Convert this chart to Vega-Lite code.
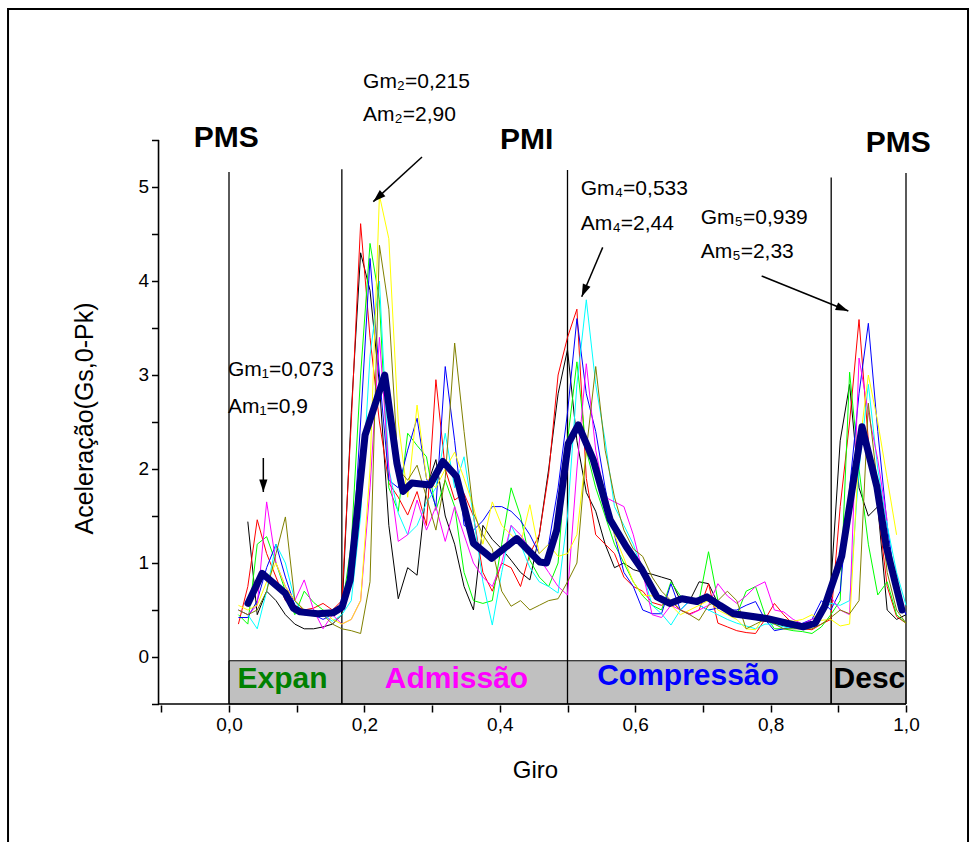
{
  "$schema": "https://vega.github.io/schema/vega-lite/v6.json",
  "width": 975,
  "height": 842,
  "padding": 0,
  "autosize": {"type": "none"},
  "background": "white",
  "config": {"view": {"stroke": null}, "font": "Liberation Sans"},
  "datasets": {
    "runs": [
      {"c":"1","x":0.0278,"y":1.44},{"c":"1","x":0.0417,"y":0.45},{"c":"1","x":0.0556,"y":0.7},{"c":"1","x":0.0694,"y":0.6},{"c":"1","x":0.0833,"y":0.45},{"c":"1","x":0.0972,"y":0.35},{"c":"1","x":0.1111,"y":0.3},{"c":"1","x":0.125,"y":0.3},{"c":"1","x":0.1389,"y":0.32},{"c":"1","x":0.1528,"y":0.35},{"c":"1","x":0.1667,"y":0.45},{"c":"1","x":0.1806,"y":2.6},{"c":"1","x":0.1944,"y":4.3},{"c":"1","x":0.2083,"y":3.9},{"c":"1","x":0.2222,"y":2.9},{"c":"1","x":0.2361,"y":1.4},{"c":"1","x":0.25,"y":0.62},{"c":"1","x":0.2639,"y":0.95},{"c":"1","x":0.2778,"y":0.87},{"c":"1","x":0.2917,"y":1.8},{"c":"1","x":0.3056,"y":2.1},{"c":"1","x":0.3194,"y":1.5},{"c":"1","x":0.3333,"y":1.2},{"c":"1","x":0.3472,"y":0.75},{"c":"1","x":0.3611,"y":0.5},{"c":"1","x":0.375,"y":1.4},{"c":"1","x":0.3889,"y":1.25},{"c":"1","x":0.4028,"y":1.15},{"c":"1","x":0.4167,"y":1.03},{"c":"1","x":0.4306,"y":0.9},{"c":"1","x":0.4444,"y":0.82},{"c":"1","x":0.4583,"y":1.3},{"c":"1","x":0.4722,"y":2.0},{"c":"1","x":0.4861,"y":2.8},{"c":"1","x":0.5,"y":3.27},{"c":"1","x":0.5139,"y":2.3},{"c":"1","x":0.5278,"y":1.75},{"c":"1","x":0.5417,"y":1.55},{"c":"1","x":0.5556,"y":1.2},{"c":"1","x":0.5694,"y":0.95},{"c":"1","x":0.5833,"y":1.0},{"c":"1","x":0.5972,"y":0.93},{"c":"1","x":0.6111,"y":0.9},{"c":"1","x":0.625,"y":0.88},{"c":"1","x":0.6389,"y":0.85},{"c":"1","x":0.6528,"y":0.82},{"c":"1","x":0.6667,"y":0.6},{"c":"1","x":0.6806,"y":0.6},{"c":"1","x":0.6944,"y":0.8},{"c":"1","x":0.7083,"y":0.78},{"c":"1","x":0.7222,"y":0.57},{"c":"1","x":0.7361,"y":0.5},{"c":"1","x":0.75,"y":0.45},{"c":"1","x":0.7639,"y":0.42},{"c":"1","x":0.7778,"y":0.4},{"c":"1","x":0.7917,"y":0.38},{"c":"1","x":0.8056,"y":0.36},{"c":"1","x":0.8194,"y":0.33},{"c":"1","x":0.8333,"y":0.32},{"c":"1","x":0.8472,"y":0.32},{"c":"1","x":0.8611,"y":0.35},{"c":"1","x":0.875,"y":0.5},{"c":"1","x":0.8889,"y":0.75},{"c":"1","x":0.9028,"y":2.3},{"c":"1","x":0.9167,"y":2.9},{"c":"1","x":0.9306,"y":1.8},{"c":"1","x":0.9444,"y":1.5},{"c":"1","x":0.9583,"y":1.6},{"c":"1","x":0.9722,"y":0.5},{"c":"1","x":0.9861,"y":0.4},{"c":"1","x":1.0,"y":0.45},

      {"c":"2","x":0.0139,"y":0.35},{"c":"2","x":0.0278,"y":0.75},{"c":"2","x":0.0417,"y":1.46},{"c":"2","x":0.0556,"y":1.1},{"c":"2","x":0.0694,"y":0.85},{"c":"2","x":0.0833,"y":0.6},{"c":"2","x":0.0972,"y":0.55},{"c":"2","x":0.1111,"y":0.5},{"c":"2","x":0.125,"y":0.52},{"c":"2","x":0.1389,"y":0.57},{"c":"2","x":0.1528,"y":0.5},{"c":"2","x":0.1667,"y":0.6},{"c":"2","x":0.1806,"y":2.5},{"c":"2","x":0.1944,"y":4.61},{"c":"2","x":0.2083,"y":3.4},{"c":"2","x":0.2222,"y":2.5},{"c":"2","x":0.2361,"y":1.85},{"c":"2","x":0.25,"y":1.7},{"c":"2","x":0.2639,"y":1.51},{"c":"2","x":0.2778,"y":1.76},{"c":"2","x":0.2917,"y":1.4},{"c":"2","x":0.3056,"y":2.95},{"c":"2","x":0.3194,"y":2.0},{"c":"2","x":0.3333,"y":1.67},{"c":"2","x":0.3472,"y":1.74},{"c":"2","x":0.3611,"y":1.5},{"c":"2","x":0.375,"y":0.9},{"c":"2","x":0.3889,"y":0.7},{"c":"2","x":0.4028,"y":1.0},{"c":"2","x":0.4167,"y":0.95},{"c":"2","x":0.4306,"y":0.75},{"c":"2","x":0.4444,"y":1.1},{"c":"2","x":0.4583,"y":1.3},{"c":"2","x":0.4722,"y":1.95},{"c":"2","x":0.4861,"y":3.0},{"c":"2","x":0.5,"y":3.4},{"c":"2","x":0.5139,"y":3.7},{"c":"2","x":0.5278,"y":1.9},{"c":"2","x":0.5417,"y":1.3},{"c":"2","x":0.5556,"y":1.2},{"c":"2","x":0.5694,"y":1.1},{"c":"2","x":0.5833,"y":0.85},{"c":"2","x":0.5972,"y":0.75},{"c":"2","x":0.6111,"y":0.7},{"c":"2","x":0.625,"y":0.58},{"c":"2","x":0.6389,"y":0.55},{"c":"2","x":0.6528,"y":0.6},{"c":"2","x":0.6667,"y":0.5},{"c":"2","x":0.6806,"y":0.46},{"c":"2","x":0.6944,"y":0.5},{"c":"2","x":0.7083,"y":0.78},{"c":"2","x":0.7222,"y":0.36},{"c":"2","x":0.7361,"y":0.32},{"c":"2","x":0.75,"y":0.28},{"c":"2","x":0.7639,"y":0.26},{"c":"2","x":0.7778,"y":0.25},{"c":"2","x":0.7917,"y":0.4},{"c":"2","x":0.8056,"y":0.57},{"c":"2","x":0.8194,"y":0.45},{"c":"2","x":0.8333,"y":0.35},{"c":"2","x":0.8472,"y":0.3},{"c":"2","x":0.8611,"y":0.29},{"c":"2","x":0.875,"y":0.35},{"c":"2","x":0.8889,"y":0.4},{"c":"2","x":0.9028,"y":1.6},{"c":"2","x":0.9167,"y":2.5},{"c":"2","x":0.9306,"y":3.59},{"c":"2","x":0.9444,"y":2.3},{"c":"2","x":0.9583,"y":1.6},{"c":"2","x":0.9722,"y":0.75},{"c":"2","x":0.9861,"y":0.43},{"c":"2","x":1.0,"y":0.36},

      {"c":"3","x":0.0139,"y":0.45},{"c":"3","x":0.0278,"y":0.35},{"c":"3","x":0.0417,"y":1.2},{"c":"3","x":0.0556,"y":1.28},{"c":"3","x":0.0694,"y":1.0},{"c":"3","x":0.0833,"y":0.7},{"c":"3","x":0.0972,"y":0.45},{"c":"3","x":0.1111,"y":0.7},{"c":"3","x":0.125,"y":0.58},{"c":"3","x":0.1389,"y":0.5},{"c":"3","x":0.1528,"y":0.45},{"c":"3","x":0.1667,"y":0.5},{"c":"3","x":0.1806,"y":1.2},{"c":"3","x":0.1944,"y":3.0},{"c":"3","x":0.2083,"y":4.4},{"c":"3","x":0.2222,"y":3.8},{"c":"3","x":0.2361,"y":1.8},{"c":"3","x":0.25,"y":1.55},{"c":"3","x":0.2639,"y":2.38},{"c":"3","x":0.2778,"y":2.25},{"c":"3","x":0.2917,"y":2.13},{"c":"3","x":0.3056,"y":1.56},{"c":"3","x":0.3194,"y":1.88},{"c":"3","x":0.3333,"y":1.6},{"c":"3","x":0.3472,"y":0.9},{"c":"3","x":0.3611,"y":0.6},{"c":"3","x":0.375,"y":0.57},{"c":"3","x":0.3889,"y":0.6},{"c":"3","x":0.4028,"y":1.2},{"c":"3","x":0.4167,"y":1.8},{"c":"3","x":0.4306,"y":1.5},{"c":"3","x":0.4444,"y":1.03},{"c":"3","x":0.4583,"y":0.85},{"c":"3","x":0.4722,"y":0.75},{"c":"3","x":0.4861,"y":1.0},{"c":"3","x":0.5,"y":2.3},{"c":"3","x":0.5139,"y":3.14},{"c":"3","x":0.5278,"y":2.2},{"c":"3","x":0.5417,"y":1.8},{"c":"3","x":0.5556,"y":1.5},{"c":"3","x":0.5694,"y":1.2},{"c":"3","x":0.5833,"y":1.0},{"c":"3","x":0.5972,"y":0.8},{"c":"3","x":0.6111,"y":0.65},{"c":"3","x":0.625,"y":0.55},{"c":"3","x":0.6389,"y":0.5},{"c":"3","x":0.6528,"y":0.8},{"c":"3","x":0.6667,"y":0.65},{"c":"3","x":0.6806,"y":0.6},{"c":"3","x":0.6944,"y":0.6},{"c":"3","x":0.7083,"y":1.12},{"c":"3","x":0.7222,"y":0.6},{"c":"3","x":0.7361,"y":0.5},{"c":"3","x":0.75,"y":0.45},{"c":"3","x":0.7639,"y":0.7},{"c":"3","x":0.7778,"y":0.75},{"c":"3","x":0.7917,"y":0.45},{"c":"3","x":0.8056,"y":0.3},{"c":"3","x":0.8194,"y":0.3},{"c":"3","x":0.8333,"y":0.28},{"c":"3","x":0.8472,"y":0.27},{"c":"3","x":0.8611,"y":0.25},{"c":"3","x":0.875,"y":0.32},{"c":"3","x":0.8889,"y":0.45},{"c":"3","x":0.9028,"y":0.6},{"c":"3","x":0.9167,"y":3.03},{"c":"3","x":0.9306,"y":2.0},{"c":"3","x":0.9444,"y":1.2},{"c":"3","x":0.9583,"y":0.66},{"c":"3","x":0.9722,"y":0.8},{"c":"3","x":0.9861,"y":0.45},{"c":"3","x":1.0,"y":0.36},

      {"c":"4","x":0.0139,"y":0.42},{"c":"4","x":0.0278,"y":0.42},{"c":"4","x":0.0417,"y":0.6},{"c":"4","x":0.0556,"y":0.95},{"c":"4","x":0.0694,"y":1.2},{"c":"4","x":0.0833,"y":0.85},{"c":"4","x":0.0972,"y":0.55},{"c":"4","x":0.1111,"y":0.45},{"c":"4","x":0.125,"y":0.45},{"c":"4","x":0.1389,"y":0.4},{"c":"4","x":0.1528,"y":0.45},{"c":"4","x":0.1667,"y":0.5},{"c":"4","x":0.1806,"y":0.9},{"c":"4","x":0.1944,"y":2.5},{"c":"4","x":0.2083,"y":4.24},{"c":"4","x":0.2222,"y":3.0},{"c":"4","x":0.2361,"y":1.88},{"c":"4","x":0.25,"y":1.8},{"c":"4","x":0.2639,"y":2.2},{"c":"4","x":0.2778,"y":2.54},{"c":"4","x":0.2917,"y":1.9},{"c":"4","x":0.3056,"y":1.6},{"c":"4","x":0.3194,"y":3.09},{"c":"4","x":0.3333,"y":2.3},{"c":"4","x":0.3472,"y":1.4},{"c":"4","x":0.3611,"y":1.35},{"c":"4","x":0.375,"y":1.45},{"c":"4","x":0.3889,"y":1.6},{"c":"4","x":0.4028,"y":1.6},{"c":"4","x":0.4167,"y":1.55},{"c":"4","x":0.4306,"y":1.45},{"c":"4","x":0.4444,"y":1.3},{"c":"4","x":0.4583,"y":1.1},{"c":"4","x":0.4722,"y":1.2},{"c":"4","x":0.4861,"y":1.8},{"c":"4","x":0.5,"y":2.6},{"c":"4","x":0.5139,"y":3.6},{"c":"4","x":0.5278,"y":2.8},{"c":"4","x":0.5417,"y":2.4},{"c":"4","x":0.5556,"y":1.8},{"c":"4","x":0.5694,"y":1.3},{"c":"4","x":0.5833,"y":0.9},{"c":"4","x":0.5972,"y":0.75},{"c":"4","x":0.6111,"y":0.5},{"c":"4","x":0.625,"y":0.46},{"c":"4","x":0.6389,"y":0.46},{"c":"4","x":0.6528,"y":0.78},{"c":"4","x":0.6667,"y":0.5},{"c":"4","x":0.6806,"y":0.6},{"c":"4","x":0.6944,"y":0.55},{"c":"4","x":0.7083,"y":0.5},{"c":"4","x":0.7222,"y":0.52},{"c":"4","x":0.7361,"y":0.5},{"c":"4","x":0.75,"y":0.5},{"c":"4","x":0.7639,"y":0.55},{"c":"4","x":0.7778,"y":0.59},{"c":"4","x":0.7917,"y":0.4},{"c":"4","x":0.8056,"y":0.28},{"c":"4","x":0.8194,"y":0.3},{"c":"4","x":0.8333,"y":0.32},{"c":"4","x":0.8472,"y":0.36},{"c":"4","x":0.8611,"y":0.4},{"c":"4","x":0.875,"y":0.6},{"c":"4","x":0.8889,"y":0.5},{"c":"4","x":0.9028,"y":0.7},{"c":"4","x":0.9167,"y":1.8},{"c":"4","x":0.9306,"y":2.8},{"c":"4","x":0.9444,"y":3.55},{"c":"4","x":0.9583,"y":2.4},{"c":"4","x":0.9722,"y":1.4},{"c":"4","x":0.9861,"y":0.7},{"c":"4","x":1.0,"y":0.45},

      {"c":"5","x":0.0139,"y":0.5},{"c":"5","x":0.0278,"y":0.45},{"c":"5","x":0.0417,"y":0.3},{"c":"5","x":0.0556,"y":0.7},{"c":"5","x":0.0694,"y":1.2},{"c":"5","x":0.0833,"y":1.0},{"c":"5","x":0.0972,"y":0.6},{"c":"5","x":0.1111,"y":0.45},{"c":"5","x":0.125,"y":0.5},{"c":"5","x":0.1389,"y":0.45},{"c":"5","x":0.1528,"y":0.38},{"c":"5","x":0.1667,"y":0.45},{"c":"5","x":0.1806,"y":0.6},{"c":"5","x":0.1944,"y":1.5},{"c":"5","x":0.2083,"y":3.2},{"c":"5","x":0.2222,"y":4.0},{"c":"5","x":0.2361,"y":2.0},{"c":"5","x":0.25,"y":1.53},{"c":"5","x":0.2639,"y":1.3},{"c":"5","x":0.2778,"y":1.4},{"c":"5","x":0.2917,"y":1.64},{"c":"5","x":0.3056,"y":1.8},{"c":"5","x":0.3194,"y":2.38},{"c":"5","x":0.3333,"y":1.8},{"c":"5","x":0.3472,"y":2.13},{"c":"5","x":0.3611,"y":1.5},{"c":"5","x":0.375,"y":0.8},{"c":"5","x":0.3889,"y":0.34},{"c":"5","x":0.4028,"y":0.9},{"c":"5","x":0.4167,"y":1.4},{"c":"5","x":0.4306,"y":1.2},{"c":"5","x":0.4444,"y":0.95},{"c":"5","x":0.4583,"y":0.8},{"c":"5","x":0.4722,"y":0.75},{"c":"5","x":0.4861,"y":0.68},{"c":"5","x":0.5,"y":1.5},{"c":"5","x":0.5139,"y":2.9},{"c":"5","x":0.5278,"y":3.8},{"c":"5","x":0.5417,"y":2.9},{"c":"5","x":0.5556,"y":2.3},{"c":"5","x":0.5694,"y":1.6},{"c":"5","x":0.5833,"y":1.4},{"c":"5","x":0.5972,"y":1.2},{"c":"5","x":0.6111,"y":0.9},{"c":"5","x":0.625,"y":0.55},{"c":"5","x":0.6389,"y":0.46},{"c":"5","x":0.6528,"y":0.34},{"c":"5","x":0.6667,"y":0.5},{"c":"5","x":0.6806,"y":0.6},{"c":"5","x":0.6944,"y":0.55},{"c":"5","x":0.7083,"y":0.5},{"c":"5","x":0.7222,"y":0.45},{"c":"5","x":0.7361,"y":0.4},{"c":"5","x":0.75,"y":0.36},{"c":"5","x":0.7639,"y":0.33},{"c":"5","x":0.7778,"y":0.3},{"c":"5","x":0.7917,"y":0.35},{"c":"5","x":0.8056,"y":0.35},{"c":"5","x":0.8194,"y":0.32},{"c":"5","x":0.8333,"y":0.3},{"c":"5","x":0.8472,"y":0.32},{"c":"5","x":0.8611,"y":0.35},{"c":"5","x":0.875,"y":0.5},{"c":"5","x":0.8889,"y":0.57},{"c":"5","x":0.9028,"y":0.55},{"c":"5","x":0.9167,"y":0.6},{"c":"5","x":0.9306,"y":2.0},{"c":"5","x":0.9444,"y":2.9},{"c":"5","x":0.9583,"y":2.0},{"c":"5","x":0.9722,"y":1.4},{"c":"5","x":0.9861,"y":0.9},{"c":"5","x":1.0,"y":0.55},

      {"c":"6","x":0.0139,"y":0.5},{"c":"6","x":0.0278,"y":0.45},{"c":"6","x":0.0417,"y":0.55},{"c":"6","x":0.0556,"y":1.65},{"c":"6","x":0.0694,"y":1.0},{"c":"6","x":0.0833,"y":0.75},{"c":"6","x":0.0972,"y":0.6},{"c":"6","x":0.1111,"y":0.82},{"c":"6","x":0.125,"y":0.5},{"c":"6","x":0.1389,"y":0.3},{"c":"6","x":0.1528,"y":0.45},{"c":"6","x":0.1667,"y":0.35},{"c":"6","x":0.1806,"y":0.4},{"c":"6","x":0.1944,"y":0.6},{"c":"6","x":0.2083,"y":1.8},{"c":"6","x":0.2222,"y":3.4},{"c":"6","x":0.2361,"y":2.0},{"c":"6","x":0.25,"y":1.23},{"c":"6","x":0.2639,"y":1.3},{"c":"6","x":0.2778,"y":1.67},{"c":"6","x":0.2917,"y":1.35},{"c":"6","x":0.3056,"y":1.6},{"c":"6","x":0.3194,"y":1.23},{"c":"6","x":0.3333,"y":1.6},{"c":"6","x":0.3472,"y":1.3},{"c":"6","x":0.3611,"y":1.0},{"c":"6","x":0.375,"y":0.85},{"c":"6","x":0.3889,"y":0.75},{"c":"6","x":0.4028,"y":1.0},{"c":"6","x":0.4167,"y":1.4},{"c":"6","x":0.4306,"y":1.3},{"c":"6","x":0.4444,"y":1.15},{"c":"6","x":0.4583,"y":1.05},{"c":"6","x":0.4722,"y":0.9},{"c":"6","x":0.4861,"y":0.75},{"c":"6","x":0.5,"y":0.66},{"c":"6","x":0.5139,"y":2.0},{"c":"6","x":0.5278,"y":3.12},{"c":"6","x":0.5417,"y":2.2},{"c":"6","x":0.5556,"y":1.7},{"c":"6","x":0.5694,"y":1.65},{"c":"6","x":0.5833,"y":1.6},{"c":"6","x":0.5972,"y":1.3},{"c":"6","x":0.6111,"y":0.9},{"c":"6","x":0.625,"y":0.45},{"c":"6","x":0.6389,"y":0.42},{"c":"6","x":0.6528,"y":0.55},{"c":"6","x":0.6667,"y":0.5},{"c":"6","x":0.6806,"y":0.45},{"c":"6","x":0.6944,"y":0.5},{"c":"6","x":0.7083,"y":0.55},{"c":"6","x":0.7222,"y":0.78},{"c":"6","x":0.7361,"y":0.65},{"c":"6","x":0.75,"y":0.57},{"c":"6","x":0.7639,"y":0.65},{"c":"6","x":0.7778,"y":0.75},{"c":"6","x":0.7917,"y":0.8},{"c":"6","x":0.8056,"y":0.5},{"c":"6","x":0.8194,"y":0.48},{"c":"6","x":0.8333,"y":0.4},{"c":"6","x":0.8472,"y":0.35},{"c":"6","x":0.8611,"y":0.4},{"c":"6","x":0.875,"y":0.45},{"c":"6","x":0.8889,"y":0.64},{"c":"6","x":0.9028,"y":0.5},{"c":"6","x":0.9167,"y":0.45},{"c":"6","x":0.9306,"y":3.18},{"c":"6","x":0.9444,"y":2.6},{"c":"6","x":0.9583,"y":2.1},{"c":"6","x":0.9722,"y":1.45},

      {"c":"7","x":0.0139,"y":0.55},{"c":"7","x":0.0278,"y":0.5},{"c":"7","x":0.0417,"y":0.55},{"c":"7","x":0.0556,"y":0.8},{"c":"7","x":0.0694,"y":1.0},{"c":"7","x":0.0833,"y":0.75},{"c":"7","x":0.0972,"y":0.6},{"c":"7","x":0.1111,"y":0.5},{"c":"7","x":0.125,"y":0.45},{"c":"7","x":0.1389,"y":0.5},{"c":"7","x":0.1528,"y":0.4},{"c":"7","x":0.1667,"y":0.35},{"c":"7","x":0.1806,"y":0.4},{"c":"7","x":0.1944,"y":0.6},{"c":"7","x":0.2083,"y":2.0},{"c":"7","x":0.2222,"y":4.91},{"c":"7","x":0.2361,"y":4.45},{"c":"7","x":0.25,"y":2.5},{"c":"7","x":0.2639,"y":1.7},{"c":"7","x":0.2778,"y":2.68},{"c":"7","x":0.2917,"y":1.9},{"c":"7","x":0.3056,"y":1.8},{"c":"7","x":0.3194,"y":2.0},{"c":"7","x":0.3333,"y":2.18},{"c":"7","x":0.3472,"y":1.9},{"c":"7","x":0.3611,"y":1.6},{"c":"7","x":0.375,"y":1.2},{"c":"7","x":0.3889,"y":1.65},{"c":"7","x":0.4028,"y":1.4},{"c":"7","x":0.4167,"y":1.3},{"c":"7","x":0.4306,"y":1.2},{"c":"7","x":0.4444,"y":1.62},{"c":"7","x":0.4583,"y":1.1},{"c":"7","x":0.4722,"y":1.2},{"c":"7","x":0.4861,"y":1.07},{"c":"7","x":0.5,"y":1.1},{"c":"7","x":0.5139,"y":1.3},{"c":"7","x":0.5278,"y":2.2},{"c":"7","x":0.5417,"y":2.0},{"c":"7","x":0.5556,"y":1.7},{"c":"7","x":0.5694,"y":1.3},{"c":"7","x":0.5833,"y":1.05},{"c":"7","x":0.5972,"y":0.8},{"c":"7","x":0.6111,"y":0.66},{"c":"7","x":0.625,"y":0.65},{"c":"7","x":0.6389,"y":0.6},{"c":"7","x":0.6528,"y":0.55},{"c":"7","x":0.6667,"y":0.45},{"c":"7","x":0.6806,"y":0.5},{"c":"7","x":0.6944,"y":0.55},{"c":"7","x":0.7083,"y":0.6},{"c":"7","x":0.7222,"y":0.5},{"c":"7","x":0.7361,"y":0.45},{"c":"7","x":0.75,"y":0.4},{"c":"7","x":0.7639,"y":0.3},{"c":"7","x":0.7778,"y":0.29},{"c":"7","x":0.7917,"y":0.45},{"c":"7","x":0.8056,"y":0.35},{"c":"7","x":0.8194,"y":0.4},{"c":"7","x":0.8333,"y":0.38},{"c":"7","x":0.8472,"y":0.4},{"c":"7","x":0.8611,"y":0.45},{"c":"7","x":0.875,"y":0.39},{"c":"7","x":0.8889,"y":0.4},{"c":"7","x":0.9028,"y":0.33},{"c":"7","x":0.9167,"y":0.35},{"c":"7","x":0.9306,"y":2.2},{"c":"7","x":0.9444,"y":3.0},{"c":"7","x":0.9583,"y":2.5},{"c":"7","x":0.9722,"y":1.9},{"c":"7","x":0.9861,"y":1.3},

      {"c":"8","x":0.0139,"y":0.5},{"c":"8","x":0.0278,"y":0.45},{"c":"8","x":0.0417,"y":0.5},{"c":"8","x":0.0556,"y":0.7},{"c":"8","x":0.0694,"y":1.1},{"c":"8","x":0.0833,"y":1.49},{"c":"8","x":0.0972,"y":0.6},{"c":"8","x":0.1111,"y":0.5},{"c":"8","x":0.125,"y":0.45},{"c":"8","x":0.1389,"y":0.45},{"c":"8","x":0.1528,"y":0.35},{"c":"8","x":0.1667,"y":0.3},{"c":"8","x":0.1806,"y":0.28},{"c":"8","x":0.1944,"y":0.25},{"c":"8","x":0.2083,"y":0.8},{"c":"8","x":0.2222,"y":4.38},{"c":"8","x":0.2361,"y":3.7},{"c":"8","x":0.25,"y":2.0},{"c":"8","x":0.2639,"y":1.88},{"c":"8","x":0.2778,"y":2.04},{"c":"8","x":0.2917,"y":1.7},{"c":"8","x":0.3056,"y":1.35},{"c":"8","x":0.3194,"y":1.9},{"c":"8","x":0.3333,"y":3.34},{"c":"8","x":0.3472,"y":2.4},{"c":"8","x":0.3611,"y":1.53},{"c":"8","x":0.375,"y":1.3},{"c":"8","x":0.3889,"y":1.15},{"c":"8","x":0.4028,"y":0.7},{"c":"8","x":0.4167,"y":0.54},{"c":"8","x":0.4306,"y":0.6},{"c":"8","x":0.4444,"y":0.5},{"c":"8","x":0.4583,"y":0.55},{"c":"8","x":0.4722,"y":0.6},{"c":"8","x":0.4861,"y":0.62},{"c":"8","x":0.5,"y":0.8},{"c":"8","x":0.5139,"y":1.0},{"c":"8","x":0.5278,"y":2.2},{"c":"8","x":0.5417,"y":3.09},{"c":"8","x":0.5556,"y":2.2},{"c":"8","x":0.5694,"y":1.7},{"c":"8","x":0.5833,"y":1.35},{"c":"8","x":0.5972,"y":1.15},{"c":"8","x":0.6111,"y":1.07},{"c":"8","x":0.625,"y":0.85},{"c":"8","x":0.6389,"y":0.7},{"c":"8","x":0.6528,"y":0.6},{"c":"8","x":0.6667,"y":0.5},{"c":"8","x":0.6806,"y":0.45},{"c":"8","x":0.6944,"y":0.39},{"c":"8","x":0.7083,"y":0.55},{"c":"8","x":0.7222,"y":0.6},{"c":"8","x":0.7361,"y":0.7},{"c":"8","x":0.75,"y":0.6},{"c":"8","x":0.7639,"y":0.3},{"c":"8","x":0.7778,"y":0.35},{"c":"8","x":0.7917,"y":0.4},{"c":"8","x":0.8056,"y":0.35},{"c":"8","x":0.8194,"y":0.3},{"c":"8","x":0.8333,"y":0.3},{"c":"8","x":0.8472,"y":0.3},{"c":"8","x":0.8611,"y":0.3},{"c":"8","x":0.875,"y":0.35},{"c":"8","x":0.8889,"y":0.42},{"c":"8","x":0.9028,"y":0.5},{"c":"8","x":0.9167,"y":0.46},{"c":"8","x":0.9306,"y":0.6},{"c":"8","x":0.9444,"y":2.7},{"c":"8","x":0.9583,"y":1.8},{"c":"8","x":0.9722,"y":0.9},{"c":"8","x":0.9861,"y":0.5},{"c":"8","x":1.0,"y":0.36}
    ],
    "mean": [
      {"x":0.028,"y":0.57},{"x":0.049,"y":0.89},{"x":0.083,"y":0.68},{"x":0.095,"y":0.52},{"x":0.105,"y":0.48},{"x":0.131,"y":0.46},{"x":0.154,"y":0.47},{"x":0.167,"y":0.53},{"x":0.179,"y":0.82},{"x":0.201,"y":2.36},{"x":0.23,"y":3.0},{"x":0.248,"y":2.06},{"x":0.257,"y":1.76},{"x":0.27,"y":1.85},{"x":0.297,"y":1.83},{"x":0.316,"y":2.08},{"x":0.336,"y":1.92},{"x":0.361,"y":1.21},{"x":0.388,"y":1.05},{"x":0.425,"y":1.26},{"x":0.459,"y":1.01},{"x":0.469,"y":1.0},{"x":0.484,"y":1.35},{"x":0.501,"y":2.27},{"x":0.516,"y":2.47},{"x":0.538,"y":2.1},{"x":0.563,"y":1.46},{"x":0.587,"y":1.17},{"x":0.61,"y":0.93},{"x":0.632,"y":0.64},{"x":0.651,"y":0.57},{"x":0.669,"y":0.62},{"x":0.691,"y":0.59},{"x":0.706,"y":0.64},{"x":0.725,"y":0.55},{"x":0.745,"y":0.46},{"x":0.794,"y":0.41},{"x":0.848,"y":0.32},{"x":0.866,"y":0.36},{"x":0.88,"y":0.54},{"x":0.905,"y":1.07},{"x":0.935,"y":2.45},{"x":0.957,"y":1.81},{"x":0.971,"y":1.17},{"x":0.994,"y":0.5}
    ]
  },
  "encoding": {
    "x": {
      "field": "x", "type": "quantitative",
      "scale": {"domain": [-0.33826, 1.10192], "nice": false, "zero": false},
      "axis": {
        "values": [-0.1, 0, 0.1, 0.2, 0.3, 0.4, 0.5, 0.6, 0.7, 0.8, 0.9, 1.0],
        "labelExpr": "round(datum.value * 10) % 2 == 0 ? replace(format(datum.value, '.1f'), '.', ',') : ''",
        "offset": -137, "domain": false, "grid": false,
        "tickColor": "black", "tickSize": 7, "tickWidth": 1.5,
        "labelFont": "Liberation Sans", "labelFontSize": 19, "labelColor": "black", "labelPadding": 3,
        "labelOverlap": false, "labelFlush": false, "labelBound": false,
        "title": "Giro", "titleFont": "Liberation Sans", "titleFontSize": 24, "titleFontWeight": "normal", "titleColor": "black",
        "titlePadding": 24, "titleX": 535
      }
    },
    "y": {
      "field": "y", "type": "quantitative",
      "scale": {"domain": [-1.96809, 6.98936], "nice": false, "zero": false},
      "axis": {
        "values": [-0.5, 0, 0.5, 1, 1.5, 2, 2.5, 3, 3.5, 4, 4.5, 5, 5.5],
        "labelExpr": "datum.value % 1 == 0 ? format(datum.value, 'd') : ''",
        "offset": -158.5, "domain": false, "grid": false,
        "tickColor": "black", "tickSize": 7, "tickWidth": 1.5,
        "labelFont": "Liberation Sans", "labelFontSize": 19, "labelColor": "black", "labelPadding": 3,
        "labelOverlap": false, "labelBound": false,
        "title": "Aceleração(Gs,0-Pk)", "titleFont": "Liberation Sans", "titleFontSize": 25, "titleFontWeight": "normal", "titleColor": "black",
        "titlePadding": 40, "titleY": 418
      }
    }
  },
  "layer": [
    {
      "data": {"values": [{"x": -0.3264, "x2": 1.0916, "y": -2.5, "y2": 6.894}]},
      "mark": {"type": "rect", "fill": "white", "fillOpacity": 0, "stroke": "black", "strokeWidth": 2, "clip": false},
      "encoding": {"x2": {"field": "x2"}, "y2": {"field": "y2"}}
    },
    {
      "data": {"values": [
        {"x": 0, "x2": 0.1667, "y": -0.5, "y2": -0.04},
        {"x": 0.1667, "x2": 0.5, "y": -0.5, "y2": -0.04},
        {"x": 0.5, "x2": 0.8895, "y": -0.5, "y2": -0.04},
        {"x": 0.8895, "x2": 1.0, "y": -0.5, "y2": -0.04}
      ]},
      "mark": {"type": "rect", "fill": "#c0c0c0", "stroke": "black", "strokeWidth": 1},
      "encoding": {"x2": {"field": "x2"}, "y2": {"field": "y2"}}
    },
    {
      "data": {"values": [
        {"x": 0, "y": -0.5, "y2": 5.16},
        {"x": 0.1667, "y": -0.5, "y2": 5.19},
        {"x": 0.5, "y": -0.5, "y2": 5.18},
        {"x": 0.8895, "y": -0.5, "y2": 5.1},
        {"x": 1.0, "y": -0.5, "y2": 5.15}
      ]},
      "mark": {"type": "rule", "color": "black", "strokeWidth": 1.3},
      "encoding": {"y2": {"field": "y2"}}
    },
    {
      "data": {"name": "runs"},
      "mark": {"type": "line", "strokeWidth": 1, "strokeJoin": "miter"},
      "encoding": {
        "color": {
          "field": "c", "type": "nominal", "legend": null,
          "scale": {"domain": ["1","2","3","4","5","6","7","8"], "range": ["#000000","#ff0000","#00ff00","#0000ff","#00ffff","#ff00ff","#ffff00","#808000"]}
        },
        "order": {"field": "x", "type": "quantitative"}
      }
    },
    {
      "data": {"name": "mean"},
      "mark": {"type": "line", "color": "#000080", "strokeWidth": 7, "strokeJoin": "round", "strokeCap": "round"},
      "encoding": {}
    },
    {
      "data": {"values": [{"x": -0.1041, "x2": 1.0, "y": -0.5}]},
      "mark": {"type": "rule", "color": "black", "strokeWidth": 1.6},
      "encoding": {"x2": {"field": "x2"}}
    },
    {
      "data": {"values": [{"x": -0.1041, "y": -0.5, "y2": 5.5}]},
      "mark": {"type": "rule", "color": "black", "strokeWidth": 1.6},
      "encoding": {"y2": {"field": "y2"}}
    },
    {
      "data": {"values": [
        {"x": 0.079, "y": -0.33, "lab": "Expan"},
        {"x": 0.336, "y": -0.33, "lab": "Admissão"},
        {"x": 0.678, "y": -0.3, "lab": "Compressão"},
        {"x": 0.946, "y": -0.33, "lab": "Desc"}
      ]},
      "mark": {"type": "text", "font": "Liberation Sans", "fontSize": 30, "fontWeight": "bold", "align": "center", "baseline": "alphabetic"},
      "encoding": {
        "text": {"field": "lab"},
        "color": {"field": "lab", "type": "nominal", "legend": null,
          "scale": {"domain": ["Expan", "Admissão", "Compressão", "Desc"], "range": ["#008000", "#ff00ff", "#0000ff", "#000000"]}}
      }
    },
    {
      "data": {"values": [
        {"x": -0.004, "y": 5.426, "lab": "PMS"},
        {"x": 0.4397, "y": 5.404, "lab": "PMI"},
        {"x": 0.9886, "y": 5.376, "lab": "PMS"}
      ]},
      "mark": {"type": "text", "font": "Liberation Sans", "fontSize": 30, "fontWeight": "bold", "align": "center", "baseline": "alphabetic", "color": "black"},
      "encoding": {"text": {"field": "lab"}}
    },
    {
      "data": {"values": [
        {"x": -0.0015, "y": 2.989, "lab": "Gm₁=0,073"},
        {"x": -0.0015, "y": 2.596, "lab": "Am₁=0,9"},
        {"x": 0.198, "y": 6.053, "lab": "Gm₂=0,215"},
        {"x": 0.198, "y": 5.702, "lab": "Am₂=2,90"},
        {"x": 0.5195, "y": 4.915, "lab": "Gm₄=0,533"},
        {"x": 0.5195, "y": 4.543, "lab": "Am₄=2,44"},
        {"x": 0.6967, "y": 4.606, "lab": "Gm₅=0,939"},
        {"x": 0.6967, "y": 4.241, "lab": "Am₅=2,33"}
      ]},
      "mark": {"type": "text", "font": "Liberation Sans", "fontSize": 21, "align": "left", "baseline": "alphabetic", "color": "black"},
      "encoding": {"text": {"field": "lab"}}
    },
    {
      "data": {"values": [
        {"x": 0.0507, "y": 2.117, "x2": 0.0507, "y2": 1.755},
        {"x": 0.2851, "y": 5.319, "x2": 0.2131, "y2": 4.844},
        {"x": 0.552, "y": 4.358, "x2": 0.521, "y2": 3.833},
        {"x": 0.7868, "y": 4.053, "x2": 0.9148, "y2": 3.681}
      ]},
      "mark": {"type": "rule", "color": "black", "strokeWidth": 1.5},
      "encoding": {"x2": {"field": "x2"}, "y2": {"field": "y2"}}
    },
    {
      "data": {"values": [{"x": 0.0507, "y": 1.755}]},
      "mark": {"type": "point", "shape": "M0,0L0.65,2L-0.65,2Z", "size": 160, "angle": 180, "filled": true, "color": "black", "opacity": 1},
      "encoding": {}
    },
    {
      "data": {"values": [{"x": 0.2131, "y": 4.844}]},
      "mark": {"type": "point", "shape": "M0,0L0.65,2L-0.65,2Z", "size": 160, "angle": 227.5, "filled": true, "color": "black", "opacity": 1},
      "encoding": {}
    },
    {
      "data": {"values": [{"x": 0.521, "y": 3.833}]},
      "mark": {"type": "point", "shape": "M0,0L0.65,2L-0.65,2Z", "size": 160, "angle": 203, "filled": true, "color": "black", "opacity": 1},
      "encoding": {}
    },
    {
      "data": {"values": [{"x": 0.9148, "y": 3.681}]},
      "mark": {"type": "point", "shape": "M0,0L0.65,2L-0.65,2Z", "size": 160, "angle": 112, "filled": true, "color": "black", "opacity": 1},
      "encoding": {}
    }
  ],
  "resolve": {"scale": {"color": "independent"}}
}
